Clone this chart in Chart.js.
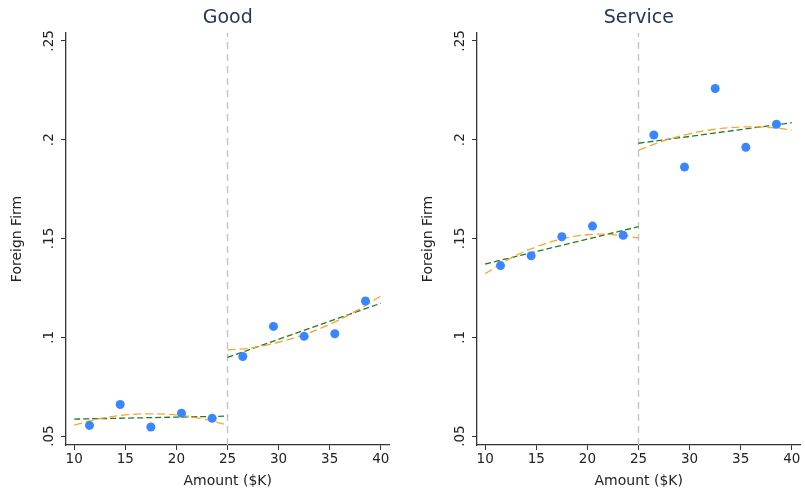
<!DOCTYPE html>
<html>
<head>
<meta charset="utf-8">
<script src="https://cdn.jsdelivr.net/npm/chart.js@4"></script>
<style>
  body { margin: 0; background: #fff; }
  .panel { position: absolute; top: 0; width: 394px; height: 494px; }
</style>
</head>
<body>
<div class="panel" style="left:0"><canvas id="good"></canvas></div>
<div class="panel" style="left:411px"><canvas id="service"></canvas></div>
<script>
// bin midpoints (amount, $K)
const binX = [11.5, 14.5, 17.5, 20.5, 23.5, 26.5, 29.5, 32.5, 35.5, 38.5];
const goodY = [0.0554, 0.0660, 0.0546, 0.0616, 0.0590, 0.0903, 0.1055, 0.1005, 0.1018, 0.1184];
const serviceY = [0.1363, 0.1413, 0.1509, 0.1563, 0.1516, 0.2024, 0.1862, 0.2259, 0.1962, 0.2078];

const cutoff = 25;

// linear fits, read at the ends of each side
const linX = [[10, 25], [25, 40]];
const goodLin = [[0.0586, 0.0601], [0.0899, 0.1172]];
const serviceLin = [[0.1371, 0.1560], [0.1982, 0.2086]];

// quadratic fits, read every 2.5K
const quadX = [[10, 12.5, 15, 17.5, 20, 22.5, 25], [25, 27.5, 30, 32.5, 35, 37.5, 40]];
const goodQuad = [[0.0556, 0.0588, 0.0607, 0.0613, 0.0607, 0.0588, 0.0556],
                  [0.0935, 0.0948, 0.0975, 0.1014, 0.1066, 0.1131, 0.1209]];
const serviceQuad = [[0.1322, 0.1400, 0.1458, 0.1498, 0.1519, 0.1520, 0.1503],
                     [0.1947, 0.1995, 0.2030, 0.2053, 0.2064, 0.2063, 0.2049]];

const xTicks = [10, 15, 20, 25, 30, 35, 40];
const yTicks = [0.05, 0.1, 0.15, 0.2, 0.25];
const yTickLabels = ['.05', '.1', '.15', '.2', '.25'];

const xMin = 9.2, xMax = 40.85, yMin = 0.0455, yMax = 0.254;

const FONT = 'DejaVu Sans';
const zip = (xs, ys) => xs.map((x, i) => ({x, y: ys[i]}));

// y tick labels drawn rotated, and the panel title centred over the plot area
const extras = {
  id: 'extras',
  afterDraw(chart, args, opts) {
    const s = chart.scales.y, ctx = chart.ctx, area = chart.chartArea;
    ctx.save();
    ctx.fillStyle = '#222';
    ctx.font = '13.5px "' + FONT + '"';
    ctx.textAlign = 'center';
    ctx.textBaseline = 'middle';
    yTicks.forEach((v, i) => {
      ctx.save();
      ctx.translate(s.right - 17, s.getPixelForValue(v));
      ctx.rotate(-Math.PI / 2);
      ctx.fillText(yTickLabels[i], 0, 0);
      ctx.restore();
    });
    ctx.fillStyle = '#26375a';
    ctx.font = '19px "' + FONT + '"';
    ctx.fillText(opts.title, (area.left + area.right) / 2, 18);
    ctx.restore();
  }
};

function makeChart(id, title, ys, lin, quad) {
  const datasets = [
    {type: 'scatter', data: zip(binX, ys), backgroundColor: '#3a86ff', borderWidth: 0, pointRadius: 4.5, order: 0},
    {data: [{x: cutoff, y: yMin}, {x: cutoff, y: yMax}], borderColor: '#c4c4c4', borderWidth: 1.4, borderDash: [7, 5], order: 5}
  ];
  [0, 1].forEach(k => {
    datasets.push({data: zip(linX[k], lin[k]), borderColor: '#237a23', borderWidth: 1.3, borderDash: [6, 3], order: 2});
    datasets.push({data: zip(quadX[k], quad[k]), borderColor: '#f7a531', borderWidth: 1.3, borderDash: [8, 4], tension: 0.4, order: 1});
  });

  return new Chart(document.getElementById(id), {
    type: 'line',
    data: {datasets},
    options: {
      responsive: true,
      maintainAspectRatio: false,
      animation: false,
      layout: {padding: {right: 3, top: 33, bottom: 0, left: 0}},
      elements: {point: {radius: 0}},
      plugins: {
        legend: {display: false},
        tooltip: {enabled: false},
        extras: {title}
      },
      scales: {
        x: {
          type: 'linear', min: xMin, max: xMax,
          afterBuildTicks: s => { s.ticks = xTicks.map(v => ({value: v})); },
          afterFit: s => { s.height = 49; },
          ticks: {color: '#222', font: {family: FONT, size: 13.5}, padding: 1, maxRotation: 0},
          grid: {display: true, drawOnChartArea: false, drawTicks: true, tickLength: 5, color: '#333'},
          border: {color: '#333', width: 1.3},
          title: {display: true, text: 'Amount ($K)', color: '#222', font: {family: FONT, size: 14}, padding: {top: 0, bottom: 4}}
        },
        y: {
          type: 'linear', min: yMin, max: yMax,
          afterBuildTicks: s => { s.ticks = yTicks.map(v => ({value: v})); },
          afterFit: s => { s.width = 66; },
          ticks: {display: false},
          grid: {display: true, drawOnChartArea: false, drawTicks: true, tickLength: 5, color: '#333'},
          border: {color: '#333', width: 1.3},
          title: {display: true, text: 'Foreign Firm', color: '#222', font: {family: FONT, size: 14}, padding: {top: 9, bottom: 0}}
        }
      }
    },
    plugins: [extras]
  });
}

makeChart('good', 'Good', goodY, goodLin, goodQuad);
makeChart('service', 'Service', serviceY, serviceLin, serviceQuad);
</script>
</body>
</html>
